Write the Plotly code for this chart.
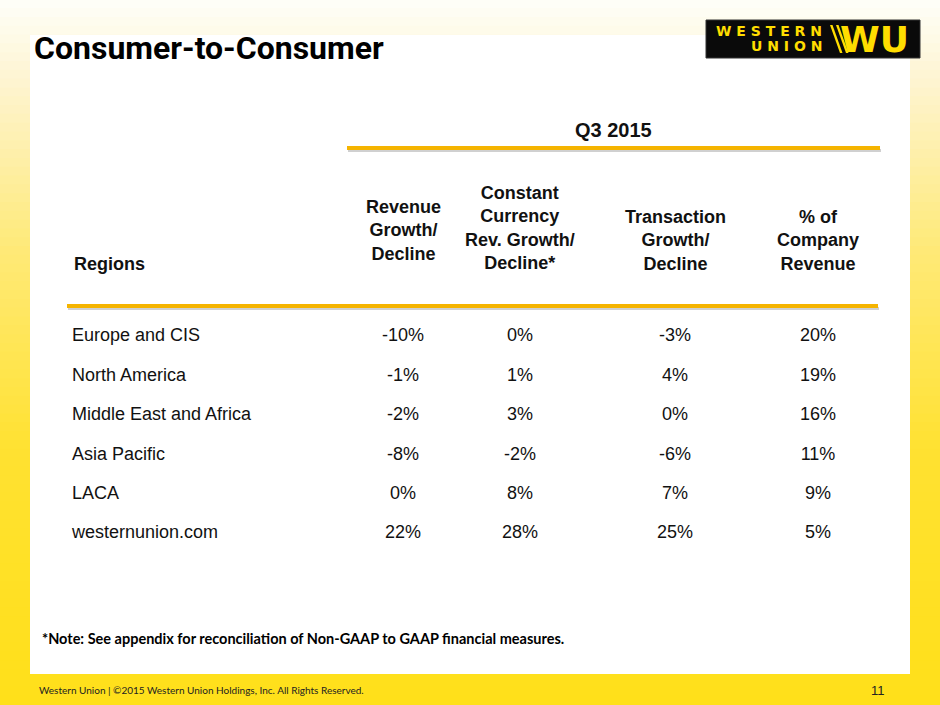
import plotly.graph_objects as go

# table data
regions = ["Europe and CIS", "North America", "Middle East and Africa",
           "Asia Pacific", "LACA", "westernunion.com"]
revenue_growth = ["-10%", "-1%", "-2%", "-8%", "0%", "22%"]
cc_revenue_growth = ["0%", "1%", "3%", "-2%", "8%", "28%"]
transaction_growth = ["-3%", "4%", "0%", "-6%", "7%", "25%"]
pct_company_revenue = ["20%", "19%", "16%", "11%", "9%", "5%"]

headers = ["Revenue<br>Growth/<br>Decline",
           "Constant<br>Currency<br>Rev. Growth/<br>Decline*",
           "Transaction<br>Growth/<br>Decline",
           "% of<br>Company<br>Revenue"]
period = "Q3 2015"

W, H = 940, 705
col_x = [403, 520, 675, 818]
header_y = [230, 228, 240, 240]
SANS = "Liberation Sans, Arial, sans-serif"
TITLE = "Roboto, Liberation Sans, sans-serif"
SMALL = "Lato, Roboto, sans-serif"
GOLD = "#F5B400"
YEL = "#FFDD00"


def px(x):
    return x / W


def py(y):
    return 1 - y / H


fig = go.Figure()

# region names
fig.add_trace(go.Scatter(
    x=[72] * len(regions), y=regions, mode="text", text=regions,
    textposition="middle right",
    textfont=dict(family=SANS, size=18, color="#111"), hoverinfo="skip"))

for cx, vals in zip(col_x, [revenue_growth, cc_revenue_growth,
                            transaction_growth, pct_company_revenue]):
    fig.add_trace(go.Scatter(
        x=[cx] * len(vals), y=regions, mode="text", text=vals,
        textposition="middle center",
        textfont=dict(family=SANS, size=18, color="#111"), hoverinfo="skip"))

shapes = []
# background gradient (cream to yellow)
stops = [(0, (255, 255, 250)), (90, (254, 244, 205)), (250, (255, 234, 120)),
         (450, (255, 226, 50)), (705, (255, 224, 26))]
n = 80
for i in range(n):
    y0 = H * i / n
    y1 = H * (i + 1) / n
    ym = (y0 + y1) / 2
    for (a, ca), (b, cb) in zip(stops[:-1], stops[1:]):
        if a <= ym <= b:
            t = (ym - a) / (b - a)
            c = tuple(int(ca[k] + (cb[k] - ca[k]) * t) for k in range(3))
            break
    shapes.append(dict(type="rect", xref="paper", yref="paper",
                       x0=0, x1=1, y0=py(y1) - 0.001, y1=py(y0) + 0.001,
                       fillcolor="rgb(%d,%d,%d)" % c, line_width=0, layer="below"))

# white panel
shapes.append(dict(type="rect", xref="paper", yref="paper",
                   x0=px(30), x1=px(910), y0=py(674), y1=py(35),
                   fillcolor="white", line_width=0, layer="below"))

# gold rules with soft shadow
for x0, x1, y in [(347, 880, 148), (67, 878, 306)]:
    shapes.append(dict(type="rect", xref="paper", yref="paper",
                       x0=px(x0 + 1), x1=px(x1 + 1), y0=py(y + 4), y1=py(y + 1),
                       fillcolor="rgba(120,120,120,0.35)", line_width=0))
    shapes.append(dict(type="rect", xref="paper", yref="paper",
                       x0=px(x0), x1=px(x1), y0=py(y + 2), y1=py(y - 2),
                       fillcolor=GOLD, line_width=0))

# logo box
shapes.append(dict(type="rect", xref="paper", yref="paper",
                   x0=px(706), x1=px(920), y0=py(58), y1=py(20),
                   fillcolor="#0a0a0a", line=dict(color="#333", width=1)))
for dx in (0, 6):
    shapes.append(dict(type="path", xref="paper", yref="paper",
                       path="M %f,%f L %f,%f L %f,%f L %f,%f Z" % (
                           px(830 + dx), py(25), px(832.5 + dx), py(25),
                           px(842.5 + dx), py(53), px(840 + dx), py(53)),
                       fillcolor=YEL, line_width=0))

ann = []
ann.append(dict(x=px(32), y=py(48), xref="paper", yref="paper", xanchor="left",
                yanchor="middle", showarrow=False, text="<b>Consumer-to-Consumer</b>",
                font=dict(family=TITLE, size=32, color="#000")))
ann.append(dict(x=px(824), y=py(31), xref="paper", yref="paper", xanchor="right",
                yanchor="middle", showarrow=False,
                text="<b>W E S T E R N</b>",
                font=dict(family="DejaVu Sans, sans-serif", size=14, color=YEL)))
ann.append(dict(x=px(824), y=py(45.5), xref="paper", yref="paper", xanchor="right",
                yanchor="middle", showarrow=False,
                text="<b>U N I O N</b>",
                font=dict(family="DejaVu Sans, sans-serif", size=14, color=YEL)))
ann.append(dict(x=px(874), y=py(39.5), xref="paper", yref="paper", xanchor="center",
                yanchor="middle", showarrow=False, text="<b>WU</b>",
                font=dict(family="DejaVu Sans, sans-serif", size=36, color=YEL)))
ann.append(dict(x=px(613), y=py(130), xref="paper", yref="paper", xanchor="center",
                yanchor="middle", showarrow=False, text="<b>%s</b>" % period,
                font=dict(family=SANS, size=20, color="#111")))
ann.append(dict(x=px(72), y=py(264), xref="paper", yref="paper", xanchor="left",
                yanchor="middle", showarrow=False, text="<b>Regions</b>",
                font=dict(family=SANS, size=18, color="#111")))
for cx, cy, h in zip(col_x, header_y, headers):
    ann.append(dict(x=px(cx), y=py(cy), xref="paper", yref="paper", xanchor="center",
                    yanchor="middle", showarrow=False, text="<b>%s</b>" % h,
                    font=dict(family=SANS, size=18, color="#111")))
ann.append(dict(x=px(40), y=py(638), xref="paper", yref="paper", xanchor="left",
                yanchor="middle", showarrow=False,
                text="<b>*Note: See appendix for reconciliation of Non-GAAP to GAAP financial measures.</b>",
                font=dict(family=SMALL, size=14.5, color="#000")))
ann.append(dict(x=px(37), y=py(690), xref="paper", yref="paper", xanchor="left",
                yanchor="middle", showarrow=False,
                text="Western Union | \u00a92015 Western Union Holdings, Inc. All Rights Reserved.",
                font=dict(family=SMALL, size=10, color="#222")))
ann.append(dict(x=px(887), y=py(690), xref="paper", yref="paper", xanchor="right",
                yanchor="middle", showarrow=False, text="11",
                font=dict(family=SANS, size=13, color="#222")))

# row axis: 6 rows from y=337 to y=534 px
row_top = 337 - 19.7
row_bot = 534 + 19.7

fig.update_layout(
    width=W, height=H, margin=dict(l=0, r=0, t=0, b=0),
    paper_bgcolor="white", plot_bgcolor="rgba(0,0,0,0)",
    showlegend=False, shapes=shapes, annotations=ann,
    xaxis=dict(range=[0, W], visible=False, fixedrange=True),
    yaxis=dict(type="category", categoryorder="array", categoryarray=regions,
               range=[len(regions) - 0.5, -0.5], visible=False,
               domain=[py(row_bot), py(row_top)], fixedrange=True),
)

fig.write_html("out.html", config={"displayModeBar": False},
               post_script="document.body.style.margin='0';")
